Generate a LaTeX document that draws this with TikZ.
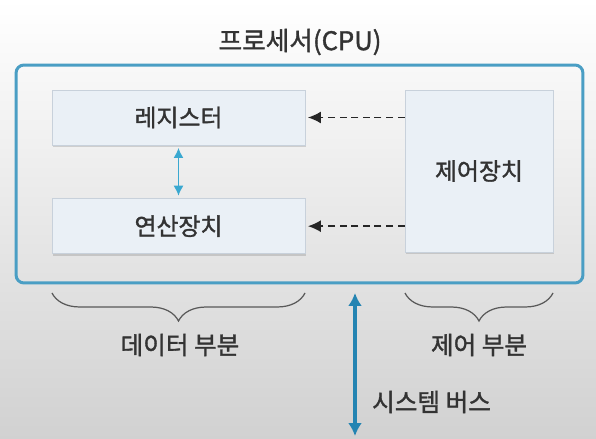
\documentclass[tikz,border=0pt]{standalone}
\usepackage{fontspec}
\usepackage{xcolor}
\usepackage{tikz}
\usetikzlibrary{arrows.meta,positioning,shadows,decorations.pathreplacing}
\newfontfamily\kr[FakeBold=1.4]{Noto Sans CJK KR}
\definecolor{cpublue}{RGB}{74,158,196}
\definecolor{busblue}{RGB}{36,132,178}
\definecolor{linkblue}{RGB}{58,168,208}
\definecolor{unitfill}{RGB}{234,240,246}
\definecolor{unitline}{RGB}{200,209,219}
\definecolor{txt}{RGB}{51,51,51}

\begin{document}
\begin{tikzpicture}[x=0.02cm,y=-0.02cm,
  lbl/.style={font=\kr\fontsize{14}{16}\selectfont,text=txt},
  unit/.style={rectangle,draw=unitline,line width=0.4pt,fill=unitfill,lbl,
    font=\kr\fontsize{13.6}{16}\selectfont,
    drop shadow={shadow xshift=0.6pt,shadow yshift=-1.2pt,opacity=0.3}},
  cpuframe/.style={rectangle,draw=cpublue,line width=1.7pt,rounded corners=4.5pt,
    minimum width=11.34cm,minimum height=4.36cm},
  ctl/.style={-{Latex[length=2.6mm,width=2.4mm]},dash pattern=on 4pt off 2.6pt,
    thick,black!85,shorten >=1.5pt},
  link/.style={{Latex[length=2mm,width=2mm]}-{Latex[length=2mm,width=2mm]},
    linkblue,line width=0.8pt,shorten <=1.5pt,shorten >=1.5pt},
  bus/.style={{Latex[length=2.6mm,width=2.8mm]}-{Latex[length=2.6mm,width=2.8mm]},
    busblue,line width=1.8pt},
  brc/.style={decorate,decoration={brace,mirror,amplitude=0.56cm},black!65,line width=0.7pt}]
% background
\fill[top color=white,middle color=black!4,bottom color=black!18] (0,0) rectangle (596,439);
\useasboundingbox (0,0) rectangle (596,439);

\node[lbl,font=\kr\fontsize{14.6}{16}\selectfont] (title) at (300,42) {프로세서(CPU)};
\node[cpuframe] (cpu) at (299.5,174) {};

\node[unit,minimum width=5.06cm,minimum height=1.1cm] (reg) at (178.5,117.5) {레지스터};
\node[unit,minimum width=5.06cm,minimum height=1.1cm,below=1.06cm of reg] (alu) {연산장치};
\node[unit,minimum width=2.96cm,minimum height=3.24cm] (ctrl) at (479,171) {제어장치};

\draw[ctl] (ctrl.west |- reg.east) -- (reg.east);
\draw[ctl] (ctrl.west |- alu.east) -- (alu.east);
\draw[link] (reg) -- (alu);

% parts
\coordinate (dl) at (52,293);
\coordinate (dr) at (305,293);
\coordinate (cl) at (405,293);
\coordinate (cr) at (553,293);
\draw[brc] (dl) -- (dr);
\draw[brc] (cl) -- (cr);
\node[lbl] (datapart) at (180,345) {데이터 부분};
\node[lbl] (ctrlpart) at (479,345) {제어 부분};

% system bus
\coordinate (bustop) at (355,293);
\coordinate (busbot) at (355,436);
\draw[bus] (bustop) -- (busbot);
\node[lbl,anchor=west] (buslbl) at (366,402) {시스템 버스};
\end{tikzpicture}
\end{document}
